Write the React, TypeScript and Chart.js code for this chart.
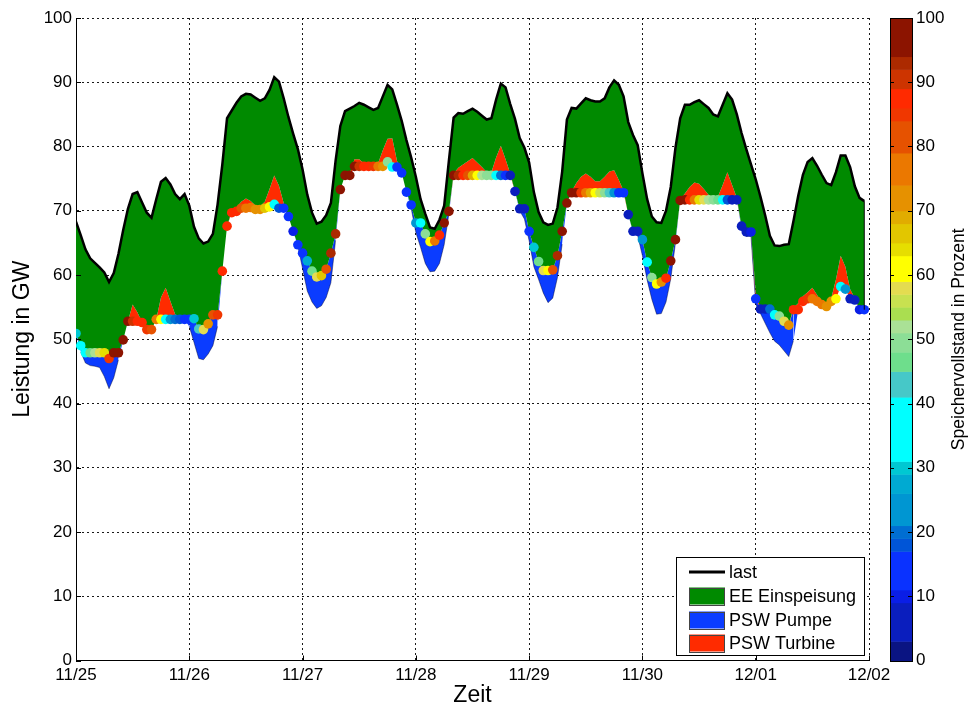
import { useEffect, useRef } from "react";
import { Chart, registerables } from "chart.js";

Chart.register(...registerables);

const FONT = "'Liberation Sans', Arial, Helvetica, sans-serif";

const DAY_LABELS = ["11/25", "11/26", "11/27", "11/28", "11/29", "11/30", "12/01", "12/02"];
const Y_TICKS = [0, 10, 20, 30, 40, 50, 60, 70, 80, 90, 100];
const COLORBAR_TICKS = [0, 10, 20, 30, 40, 50, 60, 70, 80, 90, 100];

// hourly values, 11/25 00:00 .. 12/01 23:00
const LOAD = [
  68.3, 66.2, 64.0, 62.6, 61.9, 61.2, 60.4, 58.9, 60.3, 63.3, 67.0, 70.3, 72.6, 72.9, 71.3, 69.7, 68.9, 71.8, 74.5, 75.1, 74.1, 72.6, 71.8, 72.6,
  70.8, 67.5, 65.7, 64.9, 65.2, 66.4, 71.0, 77.2, 84.4, 85.6, 86.8, 87.8, 88.2, 88.1, 87.6, 87.1, 87.5, 88.8, 90.8, 90.1, 87.5, 84.6, 82.0, 79.6,
  76.4, 72.5, 69.7, 68.0, 68.3, 69.3, 71.2, 77.8, 83.2, 85.5, 85.9, 86.3, 86.8, 86.5, 86.1, 85.7, 86.0, 87.8, 89.6, 88.9, 86.5, 84.0, 81.0, 78.3,
  75.3, 71.8, 69.5, 67.4, 67.2, 68.6, 70.8, 77.8, 84.5, 85.2, 85.1, 85.5, 85.9, 85.4, 84.8, 84.2, 84.4, 87.3, 89.8, 89.2, 86.6, 84.3, 81.3, 79.8,
  77.5, 72.9, 69.8, 68.2, 67.8, 68.0, 70.5, 76.1, 84.2, 86.0, 85.9, 86.7, 87.5, 87.2, 87.0, 87.0, 87.5, 89.2, 90.3, 89.6, 87.8, 83.8, 81.8, 80.2,
  75.8, 71.8, 69.1, 68.2, 68.1, 70.0, 73.7, 79.8, 84.4, 86.5, 86.5, 86.9, 87.2, 86.6, 86.0, 85.0, 84.7, 86.5, 88.3, 87.3, 85.0, 82.1, 79.6, 77.2,
  74.9, 72.2, 69.3, 66.1, 64.6, 64.5, 64.7, 64.8, 68.4, 72.3, 75.6, 77.6, 78.2, 77.0, 75.6, 74.3, 74.0, 76.0, 78.6, 78.6, 76.8, 73.8, 72.0, 71.5,
];

const DOT_LEVEL = [
  50.9, 49.0, 47.9, 47.9, 47.9, 47.9, 47.9, 47.0, 47.9, 47.9, 49.9, 52.8, 52.8, 52.8, 52.6, 51.5, 51.5, 53.1, 53.1, 53.1, 53.1, 53.1, 53.1, 53.1,
  53.1, 53.2, 51.6, 51.5, 52.4, 53.8, 53.8, 60.6, 67.6, 69.7, 69.9, 70.4, 70.4, 70.5, 70.2, 70.2, 70.4, 70.6, 71.0, 70.4, 70.4, 69.1, 66.8, 64.7,
  63.4, 62.2, 60.6, 59.7, 59.9, 60.9, 63.4, 66.4, 73.3, 75.5, 75.5, 76.9, 76.9, 76.9, 76.9, 76.9, 76.9, 76.9, 77.6, 76.8, 76.8, 75.9, 72.9, 70.9,
  68.1, 68.1, 66.4, 65.2, 65.3, 66.2, 68.1, 69.9, 75.5, 75.5, 75.5, 75.5, 75.5, 75.5, 75.5, 75.5, 75.5, 75.5, 75.5, 75.5, 75.5, 73.0, 70.3, 70.3,
  66.8, 64.3, 62.1, 60.7, 60.7, 60.8, 63.0, 66.8, 71.2, 72.8, 72.8, 72.8, 72.8, 72.8, 72.8, 72.8, 72.8, 72.8, 72.8, 72.8, 72.8, 69.4, 66.8, 66.8,
  65.5, 62.0, 59.6, 58.6, 58.9, 59.5, 62.2, 65.5, 71.6, 71.7, 71.7, 71.7, 71.7, 71.7, 71.7, 71.7, 71.7, 71.7, 71.7, 71.7, 71.7, 67.6, 66.7, 66.7,
  56.3, 54.7, 54.7, 54.7, 53.8, 53.6, 52.8, 52.2, 54.6, 54.6, 55.9, 56.3, 56.3, 55.9, 55.4, 55.1, 55.9, 56.3, 58.2, 57.8, 56.3, 56.1, 54.6, 54.6,
];

const TURBINE = [
  0, 0, 0, 0, 0, 0, 0, 0, 0, 0, 0, 0, 2.6, 1.4, 0, 0, 0, 0, 3.4, 4.9, 2.8, 0.8, 0, 0,
  0, 0, 0, 0, 0, 0, 0, 0, 0, 0.3, 0.6, 1.0, 1.5, 1.0, 0.6, 0.5, 1.0, 2.8, 4.5, 3.5, 0.8, 0, 0, 0,
  0, 0, 0, 0, 0, 0, 0, 0, 0, 0, 0.3, 1.1, 1.1, 0.5, 0.3, 0.2, 0.5, 2.5, 3.6, 4.5, 1.0, 0, 0, 0,
  0, 0, 0, 0, 0, 0, 0, 0, 0.3, 1.2, 1.7, 2.2, 2.7, 2.0, 1.3, 0.5, 0.5, 2.8, 4.6, 2.5, 0.3, 0, 0, 0,
  0, 0, 0, 0, 0, 0, 0, 0, 0, 0.2, 1.5, 2.5, 3.0, 2.5, 1.8, 1.8, 2.5, 3.3, 3.5, 2.0, 0.3, 0, 0, 0,
  0, 0, 0, 0, 0, 0, 0, 0, 0.2, 1.0, 2.0, 2.7, 2.5, 1.7, 0.8, 0.2, 0.5, 2.3, 4.3, 2.3, 0.3, 0, 0, 0,
  1.0, 0, 0, 0, 0, 0, 0, 0, 0.3, 1.0, 0.8, 1.0, 1.7, 1.0, 0.2, 0, 0.5, 3.0, 4.8, 3.5, 1.5, 0.3, 0, 0,
];

const PUMP = [
  0, 1.0, 1.6, 2.0, 2.1, 2.3, 3.7, 4.7, 3.9, 1.1, 0, 0, 0, 0, 0, 0, 0, 0, 0, 0, 0, 0, 0, 0,
  1.1, 3.7, 4.6, 4.7, 4.7, 4.8, 1.8, 0, 0, 0, 0, 0, 0, 0, 0, 0, 0, 0, 0, 0, 0, 0, 0, 0.2,
  2.4, 4.7, 4.8, 4.9, 4.7, 4.4, 4.6, 1.0, 0, 0, 0, 0, 0, 0, 0, 0, 0, 0, 0, 0, 0, 0, 0, 0.5,
  1.5, 3.8, 4.6, 4.7, 4.7, 4.4, 3.4, 0.4, 0, 0, 0, 0, 0, 0, 0, 0, 0, 0, 0, 0, 0, 0, 0.3, 1.6,
  1.5, 3.0, 2.8, 3.5, 5.0, 4.4, 3.4, 2.0, 0, 0, 0, 0, 0, 0, 0, 0, 0, 0, 0, 0, 0, 0, 0.2, 0.7,
  2.5, 2.8, 3.4, 4.7, 4.9, 3.7, 2.8, 0.5, 0, 0, 0, 0, 0, 0, 0, 0, 0, 0, 0, 0, 0, 0.4, 0.7, 0.7,
  0.8, 0.7, 2.2, 3.7, 4.1, 4.5, 4.6, 4.9, 4.8, 0, 0, 0, 0, 0, 0, 0, 0, 0, 0, 0, 0, 0, 0, 0,
];

const STORAGE = [
  30, 33, 38, 45, 52, 58, 63, 85, 97, 98, 98, 96, 90, 88, 86, 84, 82, 76, 62, 40, 25, 20, 17, 15,
  14, 30, 43, 58, 72, 82, 85, 87, 88, 88, 87, 83, 78, 75, 72, 70, 65, 62, 38, 18, 15, 12, 10, 12,
  15, 28, 45, 58, 65, 82, 93, 93, 94, 95, 95, 95, 90, 88, 86, 84, 78, 72, 50, 35, 15, 13, 12, 14,
  22, 35, 50, 62, 75, 86, 94, 96, 97, 92, 88, 80, 68, 60, 52, 50, 48, 38, 20, 14, 7, 6, 5, 6,
  12, 30, 45, 58, 60, 82, 93, 94, 95, 96, 94, 85, 76, 68, 62, 56, 50, 42, 25, 14, 12, 7, 6, 8,
  22, 37, 50, 60, 72, 87, 95, 96, 97, 94, 87, 75, 63, 57, 52, 50, 45, 38, 18, 8, 6, 6, 6, 10,
  12, 7, 8, 20, 36, 48, 58, 73, 88, 88, 87, 84, 78, 75, 74, 73, 70, 62, 37, 25, 8, 7, 10, 11,
];

// colour bands of the storage colour bar: [lower, upper, colour]
const PALETTE: [number, number, string][] = [
  [0, 3, "rgb(10,20,130)"],
  [3, 9, "rgb(10,30,190)"],
  [9, 11, "rgb(10,30,230)"],
  [11, 17, "rgb(10,50,255)"],
  [17, 19, "rgb(0,85,215)"],
  [19, 21, "rgb(0,110,210)"],
  [21, 26, "rgb(0,150,210)"],
  [26, 29, "rgb(0,170,210)"],
  [29, 31, "rgb(0,200,210)"],
  [31, 41, "rgb(0,255,255)"],
  [41, 45, "rgb(70,200,200)"],
  [45, 48, "rgb(110,222,140)"],
  [48, 51, "rgb(140,222,150)"],
  [51, 53, "rgb(170,225,150)"],
  [53, 55, "rgb(170,222,80)"],
  [55, 57, "rgb(200,225,80)"],
  [57, 59, "rgb(228,220,80)"],
  [59, 63, "rgb(255,255,0)"],
  [63, 65, "rgb(230,222,0)"],
  [65, 68, "rgb(226,198,0)"],
  [68, 70, "rgb(225,172,0)"],
  [70, 74, "rgb(230,145,0)"],
  [74, 79, "rgb(235,120,0)"],
  [79, 84, "rgb(230,82,0)"],
  [84, 86, "rgb(240,55,0)"],
  [86, 89, "rgb(255,42,0)"],
  [89, 92, "rgb(205,52,0)"],
  [92, 94, "rgb(172,42,0)"],
  [94, 100, "rgb(140,20,0)"],
];

const GREEN = "#008a00";
const BLUE = "#0b3cff";
const RED = "#ff2b00";

function colorFor(v: number): string {
  for (const [lo, hi, c] of PALETTE) {
    if (v >= lo && v < hi) return c;
  }
  return PALETTE[PALETTE.length - 1][2];
}

const pts = (arr: number[]) => arr.map((v, i) => ({ x: i, y: v }));

const decorPlugin = {
  id: "decor",
  afterDraw(chart: any) {
    const { ctx, chartArea: ca, scales } = chart;
    const xs = scales.x;
    const ys = scales.y;
    ctx.save();
    ctx.setLineDash([]);
    ctx.strokeStyle = "#000";
    ctx.lineWidth = 1;

    // inward tick marks
    ctx.beginPath();
    for (const t of Y_TICKS) {
      const y = Math.round(ys.getPixelForValue(t)) + 0.5;
      ctx.moveTo(ca.left, y);
      ctx.lineTo(ca.left + 5, y);
    }
    for (let d = 0; d < DAY_LABELS.length; d++) {
      const x = Math.round(xs.getPixelForValue(d * 24)) + 0.5;
      ctx.moveTo(x, ca.bottom);
      ctx.lineTo(x, ca.bottom - 5);
    }
    ctx.stroke();

    // area edge at the end of the data
    const last = LOAD.length - 1;
    const xe = xs.getPixelForValue(last);
    ctx.beginPath();
    ctx.moveTo(xe, ys.getPixelForValue(LOAD[last]));
    ctx.lineTo(xe, ys.getPixelForValue(DOT_LEVEL[last]));
    ctx.stroke();

    // colour bar
    const cbL = ca.right + 21;
    const cbR = ca.right + 43;
    for (const [lo, hi, c] of PALETTE) {
      const yTop = ys.getPixelForValue(hi);
      const yBot = ys.getPixelForValue(lo);
      ctx.fillStyle = c;
      ctx.fillRect(cbL, yTop, cbR - cbL, yBot - yTop + 0.5);
    }
    ctx.strokeStyle = "#000";
    ctx.lineWidth = 1;
    const cbTop = ys.getPixelForValue(100);
    const cbBot = ys.getPixelForValue(0);
    ctx.strokeRect(Math.round(cbL) + 0.5, Math.round(cbTop) + 0.5, Math.round(cbR - cbL), Math.round(cbBot - cbTop));
    ctx.beginPath();
    for (const t of COLORBAR_TICKS) {
      const y = Math.round(ys.getPixelForValue(t)) + 0.5;
      ctx.moveTo(cbL, y);
      ctx.lineTo(cbL + 4, y);
      ctx.moveTo(cbR, y);
      ctx.lineTo(cbR - 4, y);
    }
    ctx.stroke();
    ctx.fillStyle = "#000";
    ctx.font = `17px ${FONT}`;
    ctx.textAlign = "left";
    ctx.textBaseline = "middle";
    for (const t of COLORBAR_TICKS) {
      ctx.fillText(String(t), cbR + 4, ys.getPixelForValue(t));
    }
    ctx.save();
    ctx.translate(ca.right + 90, (cbTop + cbBot) / 2);
    ctx.rotate(-Math.PI / 2);
    ctx.textAlign = "center";
    ctx.textBaseline = "middle";
    ctx.font = `17.5px ${FONT}`;
    ctx.fillText("Speichervollstand in Prozent", 0, 0);
    ctx.restore();

    // legend box
    const lgR = ca.right - 5;
    const lgB = ca.bottom - 5.5;
    const lgL = lgR - 188;
    const lgT = lgB - 98;
    ctx.fillStyle = "#fff";
    ctx.fillRect(lgL, lgT, lgR - lgL, lgB - lgT);
    ctx.strokeStyle = "#000";
    ctx.lineWidth = 1;
    ctx.strokeRect(Math.round(lgL) + 0.5, Math.round(lgT) + 0.5, Math.round(lgR - lgL), Math.round(lgB - lgT));
    const sx = lgL + 13;
    const sw = 36;
    const rows = [lgT + 15, lgT + 39, lgT + 63, lgT + 86];
    ctx.beginPath();
    ctx.lineWidth = 3;
    ctx.moveTo(sx, rows[0]);
    ctx.lineTo(sx + sw, rows[0]);
    ctx.stroke();
    const sw2: [string, number][] = [[GREEN, rows[1]], [BLUE, rows[2]], [RED, rows[3]]];
    ctx.lineWidth = 1;
    ctx.strokeStyle = "#444";
    for (const [c, y] of sw2) {
      ctx.fillStyle = c;
      ctx.fillRect(sx, y - 8.5, sw, 17);
      ctx.strokeRect(sx + 0.5, Math.round(y - 8.5) + 0.5, sw - 1, 17);
    }
    ctx.fillStyle = "#000";
    ctx.font = `18px ${FONT}`;
    ctx.textAlign = "left";
    ctx.textBaseline = "middle";
    const names = ["last", "EE Einspeisung", "PSW Pumpe", "PSW Turbine"];
    names.forEach((n, i) => ctx.fillText(n, sx + sw + 4, rows[i] + 1));
    ctx.restore();
  },
};

export default function App() {
  const ref = useRef<HTMLCanvasElement | null>(null);

  useEffect(() => {
    if (!ref.current) return;
    const residual = DOT_LEVEL.map((d, i) => d + TURBINE[i]);
    const pumpBottom = DOT_LEVEL.map((d, i) => d - PUMP[i]);

    const chart = new Chart(ref.current, {
      type: "line",
      data: {
        datasets: [
          {
            label: "last",
            data: pts(LOAD),
            borderColor: "#000",
            borderWidth: 2.5,
            pointRadius: 0,
            backgroundColor: GREEN,
            fill: 1,
            order: 0,
          },
          {
            label: "EE top",
            data: pts(residual),
            borderWidth: 0,
            borderColor: "rgba(0,0,0,0)",
            pointRadius: 0,
            backgroundColor: RED,
            fill: 2,
            order: 3,
          },
          {
            label: "Konventionell",
            data: pts(DOT_LEVEL),
            borderWidth: 0,
            borderColor: "rgba(0,0,0,0)",
            pointRadius: 0,
            backgroundColor: BLUE,
            fill: 3,
            order: 4,
          },
          {
            label: "Pumpe unten",
            data: pts(pumpBottom),
            borderWidth: 0.8,
            borderColor: "rgba(0,0,0,0)",
            segment: {
              borderColor: (c: any) =>
                PUMP[c.p0DataIndex] > 0 && PUMP[c.p1DataIndex] > 0 ? "rgba(0,0,40,0.55)" : "rgba(0,0,0,0)",
            },
            pointRadius: 0,
            fill: false,
            order: 5,
          },
          {
            label: "Speicher",
            data: pts(DOT_LEVEL),
            showLine: false,
            pointRadius: 4.8,
            pointBorderWidth: 0,
            pointBackgroundColor: STORAGE.map(colorFor),
            order: 1,
          },
        ],
      },
      options: {
        animation: false,
        responsive: false,
        devicePixelRatio: 1,
        layout: { padding: { left: 0, right: 107, top: 18, bottom: 0 } },
        plugins: {
          legend: { display: false },
          tooltip: { enabled: false },
          filler: { drawTime: "beforeDatasetsDraw", propagate: false },
        },
        elements: { line: { tension: 0 } },
        scales: {
          x: {
            type: "linear",
            min: 0,
            max: 168,
            afterFit: (s: any) => {
              s.height = 48.5;
            },
            ticks: {
              stepSize: 24,
              autoSkip: false,
              maxRotation: 0,
              padding: 5,
              color: "#000",
              font: { family: FONT, size: 17 },
              callback: (v: any) => DAY_LABELS[Math.round(Number(v) / 24)] ?? "",
            },
            grid: { color: "rgba(0,0,0,0.9)", lineWidth: 1, drawTicks: false },
            border: { display: true, color: "#000", width: 1, dash: [2, 3] },
            title: {
              display: true,
              text: "Zeit",
              color: "#000",
              font: { family: FONT, size: 23 },
              padding: { top: 0, bottom: 0 },
            },
          },
          y: {
            min: 0,
            max: 100,
            afterFit: (s: any) => {
              s.width = 76;
            },
            ticks: {
              stepSize: 10,
              padding: 4,
              color: "#000",
              font: { family: FONT, size: 17 },
            },
            grid: { color: "rgba(0,0,0,0.9)", lineWidth: 1, drawTicks: false },
            border: { display: true, color: "#000", width: 1, dash: [2, 3] },
            title: {
              display: true,
              text: "Leistung in GW",
              color: "#000",
              font: { family: FONT, size: 23 },
              padding: { top: 9, bottom: 0 },
            },
          },
        },
      },
      plugins: [decorPlugin],
    } as any);

    return () => chart.destroy();
  }, []);

  return (
    <div style={{ position: "fixed", left: 0, top: 0, width: 976, height: 709, background: "#fff" }}>
      <canvas ref={ref} width={976} height={709} style={{ display: "block", width: 976, height: 709 }} />
    </div>
  );
}
